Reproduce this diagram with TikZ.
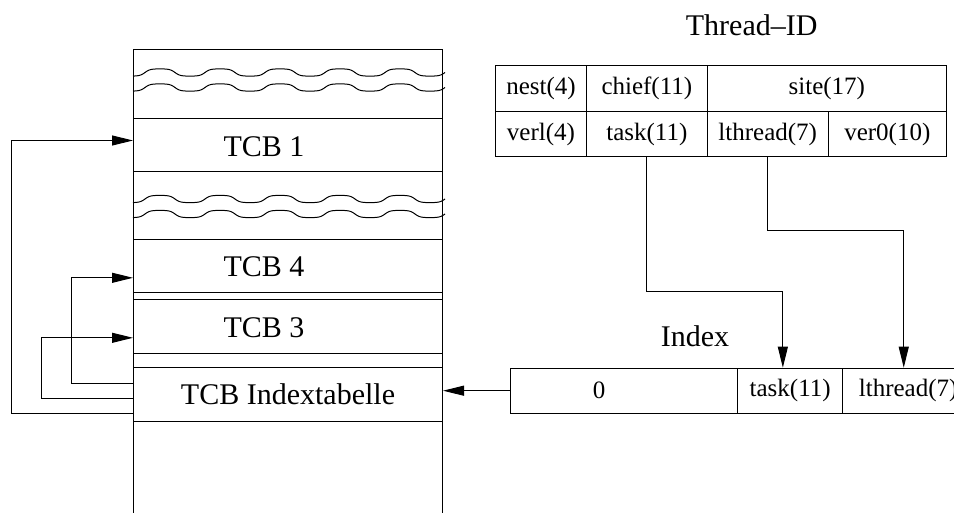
\documentclass[tikz,border=0pt]{standalone}
\usepackage{fontspec}
\setmainfont{Liberation Serif}
\usetikzlibrary{arrows.meta}
\begin{document}
\begin{tikzpicture}[x=1pt,y=-1pt,line width=1pt,
  big/.style={font=\fontsize{30}{34}\selectfont},
  small/.style={font=\fontsize{25}{29}\selectfont},
  box/.style={draw,anchor=north west,minimum width=309pt,inner sep=0pt},
  cell/.style={draw,anchor=north west,inner sep=0pt,small},
  arr/.style={-{Triangle[length=21pt,width=10pt]}}]
\useasboundingbox (0,0) rectangle (954,513);

% memory column, open at the bottom
\draw (133,513) -- (133,50) -- (442,50) -- (442,513);

% wavy break marks (flattened waves)
\foreach \m in {72.5,87.5,199,214}
  \draw plot[domain=133:445,samples=220,smooth]
    (\x,{\m-3.6*tanh(1.8*cos(6*(\x-220)))/tanh(1.8)});

% control blocks
\node[box,minimum height=52.7pt] (tcb1) at (133,118.3) {};
\node[box,minimum height=53pt]   (tcb4) at (133,239.3) {};
\node[box,minimum height=53.4pt] (tcb3) at (133,299.3) {};
\node[box,minimum height=53.4pt,big] (idx) at (133,367.3) {TCB Indextabelle};
\node[big,anchor=west,inner sep=0pt] (l1) at (223,147) {TCB 1};
\node[big,anchor=west,inner sep=0pt] (l4) at (223,267) {TCB 4};
\node[big,anchor=west,inner sep=0pt] (l3) at (223,328) {TCB 3};

% thread id layout
\node[big] (tidlbl) at (751.7,25) {Thread--ID};
\node[cell,minimum width=91pt,minimum height=46pt]    (nest)  at (495,65)    {nest(4)};
\node[cell,minimum width=120.7pt,minimum height=46pt] (chief) at (586,65)    {chief(11)};
\node[cell,minimum width=239.3pt,minimum height=46pt] (site)  at (706.7,65)  {site(17)};
\node[cell,minimum width=91pt,minimum height=45pt]    (verl)  at (495,111)   {verl(4)};
\node[cell,minimum width=120.7pt,minimum height=45pt] (task)  at (586,111)   {task(11)};
\node[cell,minimum width=121pt,minimum height=45pt]   (lthr)  at (706.7,111) {lthread(7)};
\node[cell,minimum width=118.3pt,minimum height=45pt] (ver0)  at (827.7,111) {ver0(10)};

% index layout
\node[big] (idxlbl) at (695,336.7) {Index};
\node[cell,minimum width=227pt,minimum height=45pt]   (izero) at (510,367.7)   {};
\node[small] (zero) at (599,390.2) {0};
\node[cell,minimum width=105.3pt,minimum height=45pt] (itask) at (737,367.7)   {task(11)};
\node[cell,minimum width=130.7pt,minimum height=45pt] (ilthr) at (842.3,367.7) {lthread(7)};

% bit fields copied into the index
\draw[arr] (task.south) -- (task.south |- 0,291.7) -| ([xshift=-7.3pt]itask.north);
\draw[arr] (lthr.south) -- (lthr.south |- 0,231) -| ([xshift=-4.4pt]ilthr.north);

% index selects the table
\draw[arr] (izero.west) -- (idx.east |- izero.west);

% table entries pointing to the blocks
\draw[arr] ([yshift=-18.7pt]idx.west) -- ++(-121.7,0) |- ([yshift=4.65pt]tcb1.west);
\draw[arr] ([yshift=11.3pt]idx.west) -- ++(-61.3,0) |- ([yshift=-11.5pt]tcb4.west);
\draw[arr] ([yshift=-4.3pt]idx.west) -- ++(-92,0) |- ([yshift=-11.3pt]tcb3.west);
\end{tikzpicture}
\end{document}
